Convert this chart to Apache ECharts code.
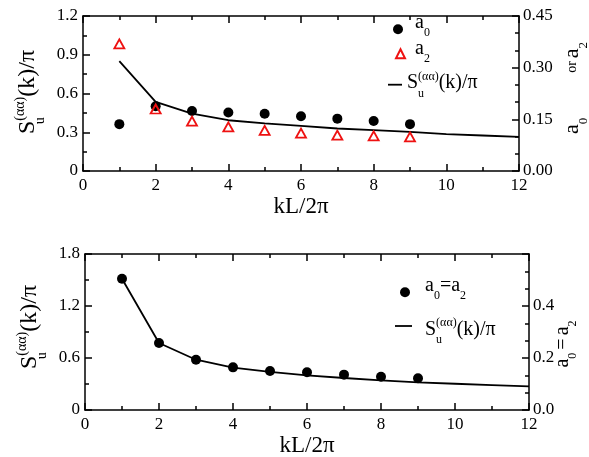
<!DOCTYPE html>
<html>
<head>
<meta charset="utf-8">
<script src="https://cdn.jsdelivr.net/npm/echarts@6/dist/echarts.min.js"></script>
<style>
html, body { margin: 0; padding: 0; background: #fff; }
#chart { width: 589px; height: 457px; }
</style>
</head>
<body>
<div id="chart"></div>
<script>
// kL/2π sample points
const kPoints = [1, 2, 3, 4, 5, 6, 7, 8, 9];
const kCurve = [1, 2, 3, 4, 5, 6, 7, 8, 9, 10, 11, 12];

// upper panel: a0, a2 (right axis) and S_u(k)/π (left axis)
const upperA0 = [0.136, 0.188, 0.174, 0.170, 0.166, 0.159, 0.152, 0.145, 0.136];
const upperA2 = [0.369, 0.180, 0.145, 0.128, 0.118, 0.110, 0.104, 0.102, 0.099];
const upperS = [0.851, 0.535, 0.445, 0.393, 0.368, 0.349, 0.329, 0.316, 0.303, 0.285, 0.275, 0.264];

// lower panel: a0 = a2 (right axis) and S_u(k)/π (left axis)
const lowerA = [0.505, 0.258, 0.193, 0.164, 0.150, 0.145, 0.136, 0.128, 0.122];
const lowerS = [1.514, 0.773, 0.580, 0.490, 0.440, 0.399, 0.369, 0.342, 0.318, 0.303, 0.288, 0.272];

// tick labels
const xTickLabels = ['0', '2', '4', '6', '8', '10', '12'];
const upperLeftTicks = ['0', '0.3', '0.6', '0.9', '1.2'];
const upperRightTicks = ['0.00', '0.15', '0.30', '0.45'];
const lowerLeftTicks = ['0', '0.6', '1.2', '1.8'];
const lowerRightTicks = ['0.0', '0.2', '0.4', ''];

const FONT = 'Liberation Serif';
const INK = '#000';
const RED = '#ee1111';
const AXIS_W = 1.5;

const upperGrid = { left: 83, top: 16, width: 436, height: 155, outerBoundsMode: 'none', containLabel: false };
const lowerGrid = { left: 85, top: 254, width: 444, height: 156, outerBoundsMode: 'none', containLabel: false };

function pick(labels, step) {
  return v => labels[Math.round(v / step)];
}

// rich styles: main text, small text, subscript, stacked subscript, superscript, spacers
function richSet(size, small) {
  const drop = 2 * (0.34 * size + 0.17 * size);
  const lift = 2 * (0.32 * size);
  const tok = (fs, o) => Object.assign({ fontFamily: FONT, fontSize: fs, color: INK }, o);
  return {
    m: tok(size, { lineHeight: size + 4 }),
    o: tok(small + 1, { lineHeight: size + 4 }),
    s: tok(small, { lineHeight: small, padding: [drop, 0, 0, 0] }),
    su: tok(small, { lineHeight: small, width: 0, padding: [drop, 0, 0, 0] }),
    p: tok(small, { lineHeight: small, padding: [0, 0, lift, 0] }),
    g: tok(small, { lineHeight: small, width: 45 }),
    h: tok(small, { lineHeight: small, width: 3 })
  };
}

const S_TEXT = '{m|S}{su|u}{p|(αα)}{m|(k)/π}';

function nameStyle(size, small, padding) {
  return { fontFamily: FONT, fontSize: size, color: INK, padding, rich: richSet(size, small) };
}

function xAxis(gridIndex, position, labels) {
  return {
    type: 'value', gridIndex, position, min: 0, max: 12, interval: 2,
    name: labels ? 'kL/2π' : '',
    nameLocation: 'middle', nameGap: 24,
    nameTextStyle: { fontFamily: FONT, fontSize: 23, color: INK },
    axisLine: { show: true, onZero: false, lineStyle: { color: INK, width: AXIS_W } },
    axisTick: { show: true, inside: true, length: 7, lineStyle: { color: INK, width: AXIS_W } },
    minorTick: { show: true, splitNumber: 2, length: 4, lineStyle: { color: INK, width: AXIS_W } },
    splitLine: { show: false },
    minorSplitLine: { show: false },
    axisLabel: labels
      ? { show: true, margin: 6, fontFamily: FONT, fontSize: 17, color: INK, formatter: pick(labels, 2) }
      : { show: false }
  };
}

function yAxis(gridIndex, position, max, step, minor, labels, margin, name, nameGap, nameTextStyle) {
  return {
    type: 'value', gridIndex, position, min: 0, max, interval: step,
    name, nameLocation: 'middle', nameRotate: 90, nameGap, nameTextStyle,
    nameMoveOverlap: false,
    axisLine: { show: true, onZero: false, lineStyle: { color: INK, width: AXIS_W } },
    axisTick: { show: true, inside: true, length: 7, lineStyle: { color: INK, width: AXIS_W } },
    minorTick: { show: true, splitNumber: minor, length: 4, lineStyle: { color: INK, width: AXIS_W } },
    splitLine: { show: false },
    minorSplitLine: { show: false },
    axisLabel: { show: true, margin, fontFamily: FONT, fontSize: 17, color: INK, formatter: pick(labels, step) }
  };
}

function points(xs, ys) {
  return xs.map((x, i) => [x, ys[i]]);
}

const legendText = {
  a0: '{m|a}{s|0}',
  a2: '{m|a}{s|2}',
  Supper: S_TEXT,
  a02: '{m|a}{s|0}{m|=a}{s|2}',
  Slower: S_TEXT
};

const legendRich = richSet(20, 12);

function legendItem(name, left, top, iconW, iconH, padLeft, shiftUp, icon) {
  const pad = shiftUp >= 0 ? [0, 0, 2 * shiftUp, padLeft] : [-2 * shiftUp, 0, 0, padLeft];
  const entry = icon ? { name, icon } : { name };
  return {
    show: true, orient: 'vertical', selectedMode: false, padding: 0,
    left, top,
    itemWidth: iconW, itemHeight: iconH,
    data: [entry],
    formatter: n => legendText[n],
    textStyle: { fontFamily: FONT, fontSize: 20, color: INK, padding: pad, rich: legendRich }
  };
}

const chart = echarts.init(document.getElementById('chart'), null, { renderer: 'canvas' });

chart.setOption({
  backgroundColor: '#fff',
  animation: false,
  grid: [upperGrid, lowerGrid],
  xAxis: [
    xAxis(0, 'bottom', xTickLabels),
    xAxis(0, 'top', null),
    xAxis(1, 'bottom', xTickLabels),
    xAxis(1, 'top', null)
  ],
  yAxis: [
    yAxis(0, 'left', 1.2, 0.3, 2, upperLeftTicks, 5,
      S_TEXT, 41, nameStyle(24, 14, [0, 0, 0, 3])),
    yAxis(0, 'right', 0.45, 0.15, 3, upperRightTicks, 4,
      '{m|a}{s|0}{g| }{o|or}{h| }{m|a}{s|2}', 40, nameStyle(22, 13, [0, 0, 0, 11])),
    yAxis(1, 'left', 1.8, 0.6, 2, lowerLeftTicks, 5,
      S_TEXT, 41, nameStyle(24, 14, [0, 0, 0, 10])),
    yAxis(1, 'right', 0.6, 0.2, 3, lowerRightTicks, 4,
      '{m|a}{s|0}{h| }{m|=}{h| }{m|a}{s|2}', 22, nameStyle(20, 12, [0, 24, 0, 0]))
  ],
  legend: [
    legendItem('a0', 393, 6.3, 10, 10, 7, 6.7),
    legendItem('a2', 395, 32.8, 9, 9, 5, 4.7),
    legendItem('Supper', 388, 67, 14, 1.8, 0, 1.5, 'rect'),
    legendItem('a02', 400, 269.3, 10, 10, 10, 6.7),
    legendItem('Slower', 395, 313.5, 17, 1.8, 8, -3.7, 'rect')
  ],
  series: [
    {
      type: 'line', name: 'Supper', xAxisIndex: 0, yAxisIndex: 0,
      data: points(kCurve, upperS), symbol: 'none',
      lineStyle: { color: INK, width: 1.8 }, itemStyle: { color: INK }, z: 2
    },
    {
      type: 'scatter', name: 'a0', xAxisIndex: 0, yAxisIndex: 1,
      data: points(kPoints, upperA0), symbol: 'circle', symbolSize: 10,
      itemStyle: { color: INK, opacity: 1 }, z: 3
    },
    {
      type: 'scatter', name: 'a2', xAxisIndex: 0, yAxisIndex: 1,
      data: points(kPoints, upperA2), symbol: 'triangle', symbolSize: [10, 9],
      itemStyle: { color: 'rgba(255,255,255,0)', borderColor: RED, borderWidth: 1.8, opacity: 1 }, z: 4
    },
    {
      type: 'line', name: 'Slower', xAxisIndex: 2, yAxisIndex: 2,
      data: points(kCurve, lowerS), symbol: 'none',
      lineStyle: { color: INK, width: 1.8 }, itemStyle: { color: INK }, z: 2
    },
    {
      type: 'scatter', name: 'a02', xAxisIndex: 2, yAxisIndex: 3,
      data: points(kPoints, lowerA), symbol: 'circle', symbolSize: 10,
      itemStyle: { color: INK, opacity: 1 }, z: 3
    }
  ]
});
</script>
</body>
</html>
